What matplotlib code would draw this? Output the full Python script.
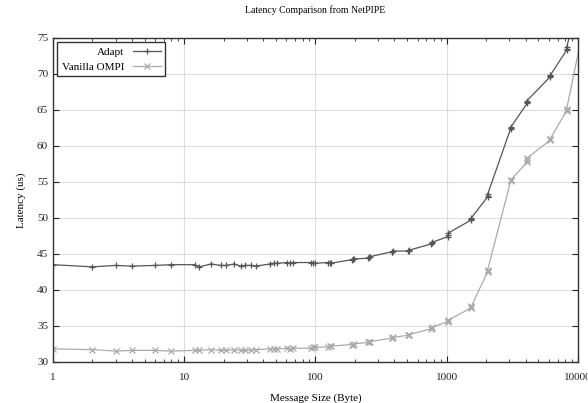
import numpy as np
import matplotlib
matplotlib.use("Agg")
import matplotlib.pyplot as plt
from matplotlib.ticker import LogLocator, NullFormatter, FixedLocator

plt.rcParams['font.family'] = ['Liberation Serif', 'DejaVu Serif']

# NetPIPE message sizes (bytes)
sizes = [1, 2, 3, 4, 6, 8, 12, 13, 16, 19, 21, 24, 27, 29, 32, 35, 45, 48, 51,
         61, 64, 67, 93, 96, 99, 125, 128, 131, 189, 192, 195, 253, 256, 259,
         381, 384, 387, 509, 512, 515, 765, 768, 771, 1021, 1024, 1027,
         1533, 1536, 1539, 2045, 2048, 2051, 3069, 3072, 3075, 4093, 4096, 4099,
         6141, 6144, 6147, 8189, 8192, 8195, 12285]

# latency (us)
adapt = [43.5, 43.2, 43.4, 43.3, 43.4, 43.5, 43.5, 43.2, 43.6, 43.4, 43.4, 43.6,
         43.3, 43.4, 43.4, 43.3, 43.6, 43.7, 43.7, 43.8, 43.7, 43.8, 43.8, 43.8,
         43.7, 43.8, 43.8, 43.7, 44.2, 44.3, 44.3, 44.4, 44.5, 44.6, 45.3, 45.3,
         45.4, 45.4, 45.4, 45.5, 46.4, 46.5, 46.6, 47.4, 47.6, 47.9, 49.7, 49.8,
         50.0, 52.9, 53.1, 53.3, 62.4, 62.5, 62.6, 65.9, 66.1, 66.3, 69.6, 69.7,
         69.8, 73.3, 73.5, 73.7, 86.0]
vanilla = [31.8, 31.7, 31.5, 31.6, 31.6, 31.5, 31.6, 31.6, 31.7, 31.6, 31.6, 31.7,
           31.6, 31.6, 31.6, 31.7, 31.8, 31.8, 31.8, 31.9, 31.8, 31.9, 31.9, 32.0,
           32.0, 32.1, 32.2, 32.2, 32.4, 32.4, 32.5, 32.7, 32.7, 32.8, 33.3, 33.3,
           33.4, 33.7, 33.7, 33.8, 34.6, 34.7, 34.8, 35.6, 35.7, 35.8, 37.5, 37.6,
           37.7, 42.5, 42.6, 42.8, 55.1, 55.2, 55.3, 57.7, 58.0, 58.3, 60.8, 60.9,
           61.0, 64.9, 65.0, 65.1, 80.7]

fig = plt.figure(figsize=(5.88, 4.03), dpi=100)
ax = fig.add_axes([0.090, 0.102, 0.893, 0.804])

ax.plot(sizes, adapt, color='#555555', lw=0.9, marker='+', ms=5, mew=0.9,
        label='Adapt')
ax.plot(sizes, vanilla, color='#aaaaaa', lw=0.9, marker='x', ms=4, mew=0.9,
        label='Vanilla OMPI')

ax.set_xscale('log')
ax.set_xlim(1, 10000)
ax.set_ylim(30, 75)
ax.xaxis.set_major_locator(FixedLocator([1, 10, 100, 1000, 10000]))
ax.set_xticklabels(['1', '10', '100', '1000', '10000'])
ax.xaxis.set_minor_locator(LogLocator(base=10, subs=np.arange(2, 10), numticks=20))
ax.xaxis.set_minor_formatter(NullFormatter())
ax.set_yticks(np.arange(30, 76, 5))

ax.grid(True, which='major', color='#dddddd', lw=0.8)
ax.set_axisbelow(True)
ax.tick_params(which='both', direction='in', top=True, right=True,
               labelsize=8, colors='#222222')
ax.tick_params(which='major', length=4)
ax.tick_params(which='minor', length=2)
ax.tick_params(axis='x', pad=8)
for s in ax.spines.values():
    s.set_color('#333333')
    s.set_linewidth(1.0)

ax.set_title('Latency Comparison from NetPIPE', fontsize=7, pad=18)
ax.set_xlabel('Message Size (Byte)', fontsize=8, labelpad=8)
ax.set_ylabel('Latency (us)', fontsize=8, labelpad=8)

leg = ax.legend(loc='upper left', markerfirst=False, fontsize=8, fancybox=False,
                edgecolor='#333333', framealpha=1, borderaxespad=0.4,
                handlelength=2.5, borderpad=0.4, labelspacing=0.5)
leg.get_frame().set_linewidth(1.0)
for t in leg.get_texts():
    t.set_ha('right')

fig.savefig('out.png', dpi=100)
